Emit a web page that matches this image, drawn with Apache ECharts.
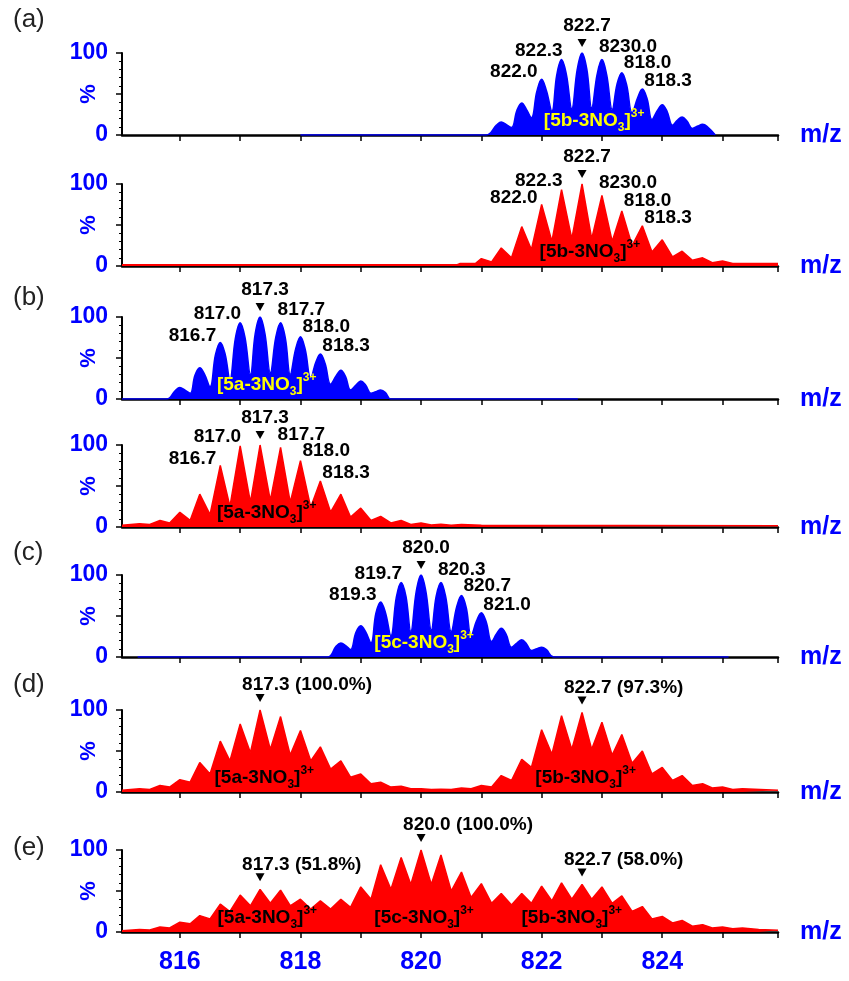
<!DOCTYPE html>
<html>
<head>
<meta charset="utf-8">
<script src="https://cdn.jsdelivr.net/npm/echarts@6/dist/echarts.min.js"></script>
<style>
html, body { margin: 0; padding: 0; background: #fff; }
#main { width: 849px; height: 981px; }
</style>
</head>
<body>
<div id="main"></div>
<script>
// axis ticks / labels (m/z)
var xTicks = [816, 817, 818, 819, 820, 821, 822, 823, 824, 825, 825.92];
var xLabels = [816, 818, 820, 822, 824];

// (a) top: calculated [5b-3NO3]3+
var a1Peaks = [[821.33,16],[821.67,39],[822.00,68],[822.33,92],[822.67,100],[823.00,92],[823.33,76],[823.67,56],[824.00,37],[824.33,22],[824.67,13]];
var a1Shoulders = [[821.25,12],[821.41,13],[821.59,30],[821.75,31],[821.92,53],[822.08,54],[822.25,73],[822.41,74],[822.59,80],[822.75,80],
	[822.92,74],[823.08,73],[823.25,62],[823.41,61],[823.59,45],[823.75,44],[823.92,30],[824.08,29],[824.25,18],[824.41,17],[824.59,11],[824.75,10]];
var a1Valleys = [[821.50,9],[821.83,21],[822.17,29],[822.50,32],[822.83,33],[823.17,31],[823.50,27],[823.83,19],[824.17,12],[824.50,8]];
var a1Base = [[818.00,0],[821.08,0],[824.88,0]];

// (a) bottom: measured 5b
var a2Peaks = [[821.00,9],[821.33,22],[821.67,48],[822.00,75],[822.33,93],[822.67,100],[823.00,86],[823.33,67],[823.67,49],[824.00,32],[824.33,18],[824.67,10],[825.00,6]];
var a2Valleys = [[821.17,5],[821.50,10],[821.83,20],[822.17,30],[822.50,33],[822.83,33],[823.17,30],[823.50,25],[823.83,17],[824.17,11],[824.50,7],[824.83,4],[825.17,3]];
var a2Base = [[815.04,1.5],[820.60,1.5],[820.65,3],[820.90,3],[825.92,3]];

// (b) top: calculated [5a-3NO3]3+
var b1Peaks = [[816.00,14],[816.33,38],[816.67,69],[817.00,93],[817.33,100],[817.67,93],[818.00,76],[818.33,55],[818.67,35],[819.00,22],[819.33,11]];
var b1Shoulders = [[815.92,10],[816.08,11],[816.25,29],[816.41,30],[816.59,54],[816.75,55],[816.92,74],[817.08,75],[817.25,80],[817.41,80],
	[817.59,75],[817.75,74],[817.92,61],[818.08,60],[818.25,44],[818.41,43],[818.59,28],[818.75,27],[818.92,17],[819.08,17],[819.25,9],[819.41,8]];
var b1Valleys = [[816.17,7],[816.50,15],[816.83,24],[817.17,30],[817.50,32],[817.83,30],[818.17,25],[818.50,18],[818.83,11],[819.17,7]];
var b1Base = [[815.04,0],[815.78,0],[819.50,0],[822.60,0]];

// (b) bottom: measured 5a
var b2Peaks = [[815.33,4],[815.67,8],[816.00,18],[816.33,40],[816.67,75],[817.00,99],[817.33,100],[817.67,97],[818.00,81],[818.33,56],[818.67,40],[819.00,23],[819.33,13],[819.67,8],[820.00,5],[820.33,3.5],[820.67,3]];
var b2Valleys = [[815.50,3],[815.83,5],[816.17,8],[816.50,15],[816.83,25],[817.17,30],[817.50,32],[817.83,30],[818.17,24],[818.50,18],[818.83,12],[819.17,8],[819.50,5],[819.83,3],[820.17,2.5],[820.50,2]];
var b2Base = [[815.04,2],[821.00,2],[825.92,1.5]];

// (c) calculated [5c-3NO3]3+
var cPeaks = [[818.67,17],[819.00,38],[819.33,67],[819.67,91],[820.00,100],[820.33,91],[820.67,75],[821.00,54],[821.33,35],[821.67,21],[822.00,12]];
var cShoulders = [[818.59,13],[818.75,14],[818.92,30],[819.08,31],[819.25,53],[819.41,54],[819.59,73],[819.75,74],[819.92,80],[820.08,80],
	[820.25,74],[820.41,73],[820.59,61],[820.75,60],[820.92,44],[821.08,43],[821.25,28],[821.41,28],[821.59,17],[821.75,16],[821.92,10],[822.08,9]];
var cValleys = [[818.83,9],[819.17,17],[819.50,26],[819.83,31],[820.17,33],[820.50,31],[820.83,26],[821.17,19],[821.50,12],[821.83,8]];
var cBase = [[815.30,0],[818.45,0],[822.20,0],[825.10,0]];

// (d) mixture 5a + 5b
var dPeaks = [[815.33,4],[815.67,8],[816.00,15],[816.33,36],[816.67,62],[817.00,83],[817.33,100],[817.67,92],[818.00,75],[818.33,55],[818.67,38],[819.00,22],[819.33,12],[819.67,7],[820.00,4],[820.33,3.5],[820.67,5],[821.00,8],[821.33,20],[821.67,40],[822.00,76],[822.33,93],[822.67,97],[823.00,85],[823.33,70],[823.67,50],[824.00,30],[824.33,20],[824.67,10],[825.00,6],[825.33,4]];
var dValleys = [[815.50,3],[815.83,6],[816.17,12],[816.50,22],[816.83,38],[817.17,48],[817.50,52],[817.83,45],[818.17,38],[818.50,28],[818.83,18],[819.17,10],[819.50,6],[819.83,4],[820.17,3],[820.50,3],[820.83,4],[821.17,6],[821.50,14],[821.83,30],[822.17,46],[822.50,52],[822.83,52],[823.17,45],[823.50,35],[823.83,22],[824.17,14],[824.50,8],[824.83,5],[825.17,3]];
var dBase = [[815.04,2],[825.92,2]];

// (e) mixture 5a + 5b + 5c
var ePeaks = [[815.33,3],[815.67,6],[816.00,12],[816.33,20],[816.67,34],[817.00,45],[817.33,52],[817.67,51],[818.00,40],[818.33,38],[818.67,40],[819.00,55],[819.33,82],[819.67,91],[820.00,100],[820.33,94],[820.67,73],[821.00,59],[821.33,47],[821.67,47],[822.00,56],[822.33,60],[822.67,58],[823.00,55],[823.33,44],[823.67,31],[824.00,19],[824.33,14],[824.67,9],[825.00,6],[825.33,5]];
var eValleys = [[815.50,2.5],[815.83,5],[816.17,10],[816.50,16],[816.83,25],[817.17,32],[817.50,35],[817.83,32],[818.17,28],[818.50,28],[818.83,30],[819.17,40],[819.50,52],[819.83,58],[820.17,58],[820.50,50],[820.83,42],[821.17,35],[821.50,33],[821.83,35],[822.17,38],[822.50,40],[822.83,40],[823.17,35],[823.50,25],[823.83,16],[824.17,11],[824.50,7],[824.83,5],[825.17,4]];
var eBase = [[815.04,1.5],[825.60,3],[825.92,2]];

// peak annotations
var aLabels = ['822.0', '822.3', '822.7', '8230.0', '818.0', '818.3'];
var aLabelMz = [822.00, 822.33, 822.67, 823.00, 823.33, 823.67];
var bLabels = ['816.7', '817.0', '817.3', '817.7', '818.0', '818.3'];
var bLabelMz = [816.67, 817.00, 817.33, 817.67, 818.00, 818.33];
var cLabels = ['819.3', '819.7', '820.0', '820.3', '820.7', '821.0'];
var cLabelMz = [819.33, 819.67, 820.00, 820.33, 820.67, 821.00];
var dLabels = ['817.3 (100.0%)', '822.7 (97.3%)'];
var dLabelMz = [817.33, 822.67];
var eLabels = ['817.3 (51.8%)', '820.0 (100.0%)', '822.7 (58.0%)'];
var eLabelMz = [817.33, 820.00, 822.67];

var FONT = '"Liberation Sans", Arial, sans-serif';
var BLUE = '#0000ff', RED = '#ff0000';

function spectrum() {
	var all = [];
	for (var i = 0; i < arguments.length; i++) all = all.concat(arguments[i]);
	all.sort(function (p, q) { return p[0] - q[0]; });
	return all;
}

function heightAt(peaks, mz) {
	for (var i = 0; i < peaks.length; i++) {
		if (Math.abs(peaks[i][0] - mz) < 0.02) return peaks[i][1];
	}
	return 0;
}

// offsets for the six-label clusters: [align, dx, dy]
var isoOffsets = [['right', -4, -7], ['right', 1, -9], ['center', 5, -27], ['left', -3, -13], ['left', 2, -10], ['left', 2, -8]];

var panels = [
	{ title: '(a)', titleTop: 2, top: 53, color: BLUE, smooth: 0.4, pts: spectrum(a1Peaks, a1Shoulders, a1Valleys, a1Base), peaks: a1Peaks,
	  labels: aLabels, labelMz: aLabelMz, kind: 'iso', main: 2, comps: [['5b', 822.87]], compColor: '#ffff00' },
	{ title: '', top: 184, color: RED, smooth: false, pts: spectrum(a2Peaks, a2Valleys, a2Base), peaks: a2Peaks,
	  labels: aLabels, labelMz: aLabelMz, kind: 'iso', main: 2, comps: [['5b', 822.80]], compColor: '#000' },
	{ title: '(b)', titleTop: 280, top: 317, color: BLUE, smooth: 0.4, pts: spectrum(b1Peaks, b1Shoulders, b1Valleys, b1Base), peaks: b1Peaks,
	  labels: bLabels, labelMz: bLabelMz, kind: 'iso', main: 2, comps: [['5a', 817.44]], compColor: '#ffff00' },
	{ title: '', top: 445, color: RED, smooth: false, pts: spectrum(b2Peaks, b2Valleys, b2Base), peaks: b2Peaks,
	  labels: bLabels, labelMz: bLabelMz, kind: 'iso', main: 2, comps: [['5a', 817.44]], compColor: '#000' },
	{ title: '(c)', titleTop: 535, top: 575, color: BLUE, smooth: 0.4, pts: spectrum(cPeaks, cShoulders, cValleys, cBase), peaks: cPeaks,
	  labels: cLabels, labelMz: cLabelMz, kind: 'iso', main: 2, comps: [['5c', 820.05]], compColor: '#ffff00' },
	{ title: '(d)', titleTop: 667, top: 710, color: RED, smooth: false, pts: spectrum(dPeaks, dValleys, dBase), peaks: dPeaks,
	  labels: dLabels, labelMz: dLabelMz, kind: 'mix', comps: [['5a', 817.40], ['5b', 822.73]], compColor: '#000' },
	{ title: '(e)', titleTop: 830, top: 850, color: RED, smooth: false, pts: spectrum(ePeaks, eValleys, eBase), peaks: ePeaks,
	  labels: eLabels, labelMz: eLabelMz, kind: 'mix', comps: [['5a', 817.45], ['5c', 820.05], ['5b', 822.50]], compColor: '#000' }
];

var PANEL_H = 82;
var grids = [], xAxes = [], yAxes = [], series = [], titles = [];
var blankSymbol = { symbol: 'circle', symbolSize: 1, itemStyle: { color: 'rgba(0,0,0,0)' } };

panels.forEach(function (p, i) {
	var last = i === panels.length - 1;
	grids.push({ left: 122, right: 71, top: p.top, height: PANEL_H });
	if (p.title) {
		titles.push({ text: p.title, left: 8, top: p.titleTop,
			textStyle: { fontFamily: FONT, fontWeight: 'normal', fontSize: 26, color: '#222' } });
	}
	xAxes.push({
		type: 'value', gridIndex: i, min: 815.04, max: 825.92,
		name: 'm/z', nameLocation: 'end', nameGap: 22,
		nameTextStyle: { color: BLUE, fontFamily: FONT, fontWeight: 'bold', fontSize: 25, padding: [0, 0, 8, 0] },
		axisLine: { onZero: false, lineStyle: { color: '#000', width: 2.5 } },
		axisTick: { show: true, customValues: xTicks, length: 6, lineStyle: { color: '#000', width: 1.5 } },
		axisLabel: { show: last, customValues: xLabels, margin: 18, color: BLUE, fontFamily: FONT, fontWeight: 'bold', fontSize: 25 },
		splitLine: { show: false }
	});
	yAxes.push({
		type: 'value', gridIndex: i, min: 0, max: 100, interval: 50,
		name: '%', nameLocation: 'middle', nameRotate: 90, nameGap: 22, nameMoveOverlap: false,
		nameTextStyle: { color: BLUE, fontFamily: FONT, fontWeight: 'bold', fontSize: 22 },
		axisLine: { show: true, lineStyle: { color: '#000', width: 2 } },
		axisTick: { show: true, length: 6, lineStyle: { color: '#000', width: 1.5 } },
		minorTick: { show: true, splitNumber: 5, length: 3, lineStyle: { color: '#000', width: 1 } },
		axisLabel: { margin: 14, color: BLUE, fontFamily: FONT, fontWeight: 'bold', fontSize: 23,
			formatter: function (v) { return v === 50 ? '' : String(v); } },
		splitLine: { show: false }
	});

	var marks = [];
	p.labels.forEach(function (t, k) {
		var mz = p.labelMz[k];
		var h = heightAt(p.peaks, mz);
		var o = p.kind === 'iso' ? isoOffsets[k] : ['left', -18, -25];
		marks.push(Object.assign({ coord: [mz, h],
			label: { show: true, formatter: function () { return t; }, align: o[0], verticalAlign: 'middle',
				offset: [o[1], o[2]], color: '#000', fontFamily: FONT, fontWeight: 'bold', fontSize: 19 } }, blankSymbol));
		if (p.kind === 'mix' || k === p.main) {
			marks.push({ coord: [mz, h], symbol: 'triangle', symbolRotate: 180, symbolSize: [9, 8],
				symbolOffset: [0, p.kind === 'iso' ? -10 : -12], itemStyle: { color: '#000' }, label: { show: false } });
		}
	});
	p.comps.forEach(function (c) {
		var col = p.compColor;
		marks.push(Object.assign({ coord: [c[1], 0],
			label: { show: true, align: 'center', verticalAlign: 'middle', offset: [0, -14],
				formatter: function () { return '{m|[' + c[0] + '-3NO}{s|3}{m|]}{p|3+}'; },
				rich: {
					m: { fontSize: 19, fontWeight: 'bold', color: col, fontFamily: FONT, lineHeight: 26, verticalAlign: 'middle' },
					s: { fontSize: 12, fontWeight: 'bold', color: col, fontFamily: FONT, lineHeight: 12, verticalAlign: 'bottom' },
					p: { fontSize: 12, fontWeight: 'bold', color: col, fontFamily: FONT, lineHeight: 12, verticalAlign: 'top' }
				} } }, blankSymbol));
	});

	series.push({
		type: 'line', xAxisIndex: i, yAxisIndex: i, data: p.pts,
		showSymbol: false, smooth: p.smooth, silent: true,
		lineStyle: { color: p.color, width: 1.5 },
		areaStyle: { color: p.color, opacity: 1 },
		markPoint: { silent: true, data: marks }
	});
});

var chart = echarts.init(document.getElementById('main'));
chart.setOption({
	animation: false,
	backgroundColor: '#fff',
	title: titles,
	grid: grids,
	xAxis: xAxes,
	yAxis: yAxes,
	series: series
});
</script>
</body>
</html>
